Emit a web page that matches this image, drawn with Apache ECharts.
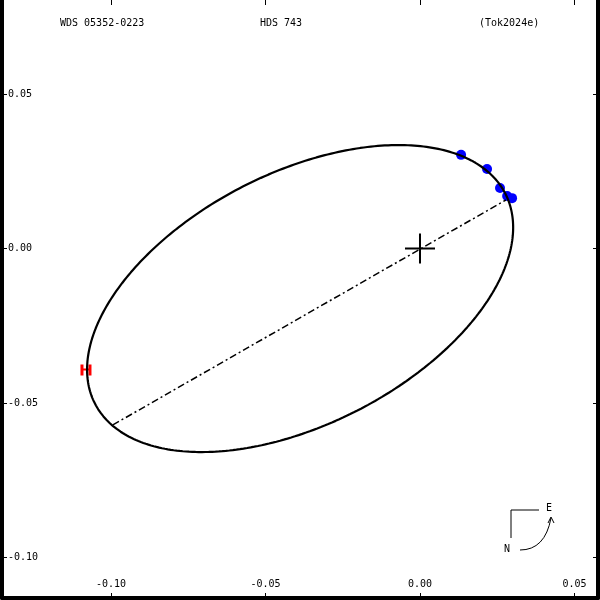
<!DOCTYPE html>
<html>
<head>
<meta charset="utf-8">
<script src="https://cdn.jsdelivr.net/npm/echarts@6/dist/echarts.min.js"></script>
<style>html,body{margin:0;padding:0;background:#fff}#c{width:600px;height:600px}</style>
</head>
<body>
<div id="c"></div>
<script>
// ---- data ----
const xTicks = [-0.10, -0.05, 0.00, 0.05];
const yTicks = [-0.10, -0.05, 0.00, 0.05];
const xRange = [-0.13528, 0.05761];
const yRange = [-0.11311, 0.08042];
// apparent orbit ellipse: centre (x,y), semi-major, semi-minor, position angle of major axis (deg)
const orbitCenter = [-0.0388, -0.0162];
const orbitAxes = [0.0746, 0.0407];
const orbitAngleDeg = 27.1;
// line of nodes end points
const nodeX = [-0.0994, 0.0278];
const nodeY = [-0.0571, 0.0157];
// measurements
const obsX = [0.0133, 0.0217, 0.0259, 0.0282, 0.0298];
const obsY = [0.0303, 0.0257, 0.0196, 0.0170, 0.0163];
const hipX = [-0.1081];
const hipY = [-0.0393];
const primary = [[0, 0]];
const headerTexts = ['WDS 05352-0223', 'HDS 743', '(Tok2024e)'];

// ---- build ----
const orbit = [];
const th = orbitAngleDeg * Math.PI / 180;
for (let k = 0; k <= 360; k++) {
  const t = k * Math.PI / 180;
  const u = orbitAxes[0] * Math.cos(t), v = orbitAxes[1] * Math.sin(t);
  orbit.push([orbitCenter[0] + u * Math.cos(th) - v * Math.sin(th),
              orbitCenter[1] + u * Math.sin(th) + v * Math.cos(th)]);
}
const FONT = 'DejaVu Sans Mono';
const fmt = v => v.toFixed(2);
function xAxisDef(pos, labels) {
  return {
    type: 'value', position: pos, min: xRange[0], max: xRange[1],
    axisLine: {show: pos === 'bottom', onZero: false, lineStyle: {color: '#000', width: 4}},
    axisTick: {show: true, inside: true, length: 5, customValues: xTicks, lineStyle: {color: '#000', width: 1}},
    axisLabel: {show: labels, inside: true, customValues: xTicks, formatter: fmt, margin: 9,
      color: '#000', fontFamily: FONT, fontSize: 10},
    splitLine: {show: false}
  };
}
function yAxisDef(pos, labels) {
  return {
    type: 'value', position: pos, min: yRange[0], max: yRange[1],
    axisLine: {show: true, onZero: false, lineStyle: {color: '#000', width: 4}},
    axisTick: {show: true, inside: true, length: 5, customValues: yTicks, lineStyle: {color: '#000', width: 1}},
    axisLabel: {show: labels, inside: true, customValues: yTicks, formatter: fmt, margin: 6,
      color: '#000', fontFamily: FONT, fontSize: 10, align: 'left'},
    splitLine: {show: false}
  };
}
const chart = echarts.init(document.getElementById('c'), null, {renderer: 'canvas'});
const hPath = 'path://M0,0h3v4h5v-4h3v11h-3v-5h-5v5h-3z';
const plusPath = 'path://M-1,-15h2v14h14v2h-14v14h-2v-14h-14v-2h14z';
chart.setOption({
  animation: false,
  backgroundColor: '#fff',
  grid: {left: 2, right: 2, top: 0, bottom: 2},
  xAxis: [xAxisDef('bottom', true), xAxisDef('top', false)],
  yAxis: [yAxisDef('left', true), yAxisDef('right', false)],
  series: [
    {type: 'scatter', z: 2, data: obsX.map((x, i) => [x, obsY[i]]), symbol: 'circle', symbolSize: 10,
      itemStyle: {color: '#0000ff', opacity: 1}},
    {type: 'scatter', z: 2, data: hipX.map((x, i) => [x, hipY[i]]), symbol: hPath, symbolSize: 11,
      itemStyle: {color: '#ff0000', opacity: 1}},
    {type: 'line', z: 3, data: orbit, showSymbol: false, lineStyle: {color: '#000', width: 2.2}, silent: true},
    {type: 'line', z: 3, data: nodeX.map((x, i) => [x, nodeY[i]]), showSymbol: false,
      lineStyle: {color: '#000', width: 1.5, type: [7, 3, 2, 3]}},
    {type: 'scatter', z: 3, data: primary, symbol: plusPath, symbolSize: 30, itemStyle: {color: '#000', opacity: 1}}
  ],
  graphic: [
    {type: 'text', left: 60, top: 18, style: {text: headerTexts[0], font: '10px ' + FONT, fill: '#000'}},
    {type: 'text', left: 260, top: 18, style: {text: headerTexts[1], font: '10px ' + FONT, fill: '#000'}},
    {type: 'text', left: 479, top: 18, style: {text: headerTexts[2], font: '10px ' + FONT, fill: '#000'}},
    {type: 'polyline', shape: {points: [[511, 538], [511, 510], [539, 510]]}, style: {stroke: '#000', lineWidth: 1, fill: null}},
    {type: 'text', left: 546, top: 503, style: {text: 'E', font: '10px ' + FONT, fill: '#000'}},
    {type: 'text', left: 504, top: 544, style: {text: 'N', font: '10px ' + FONT, fill: '#000'}},
    {type: 'bezierCurve', shape: {x1: 520, y1: 550, cpx1: 545, cpy1: 550, x2: 551, y2: 518}, style: {stroke: '#000', lineWidth: 1, fill: null}},
    {type: 'polyline', shape: {points: [[548, 523], [551, 517], [554, 523]]}, style: {stroke: '#000', lineWidth: 1, fill: null}}
  ]
});
</script>
</body>
</html>
